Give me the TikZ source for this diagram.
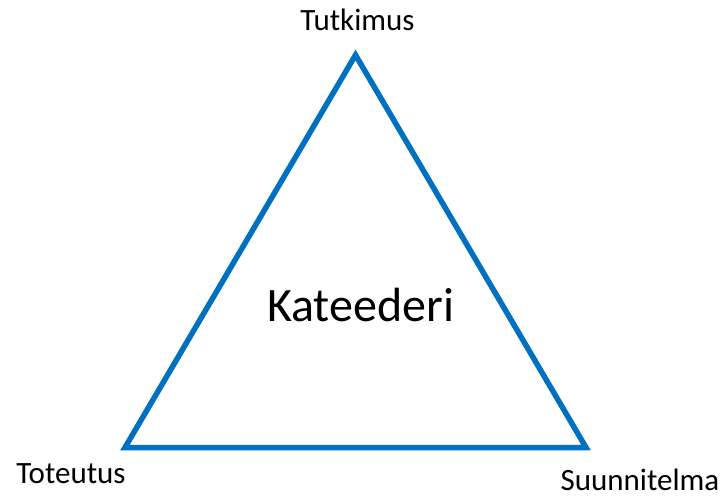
\documentclass[tikz,border=0pt]{standalone}
\usepackage{fontspec}
\setmainfont{Carlito}
\usetikzlibrary{positioning}
\definecolor{edgeblue}{HTML}{0070C0}

\begin{document}
\begin{tikzpicture}[x=1pt, y=-1pt,
    corner/.style={anchor=base, inner sep=0pt, font=\fontsize{31}{36}\selectfont},
    centre/.style={anchor=base, inner sep=0pt, font=\fontsize{48}{56}\selectfont}]
  \useasboundingbox (0,0) rectangle (727,498);

  % corners of the triangle
  \coordinate (top) at (355.5, 55);
  \coordinate (left) at (125, 447.5);
  \coordinate (right) at (586, 447.5);
  \draw[edgeblue, line width=5.5pt] (top) -- (right) -- (left) -- cycle;

  % labels
  \node[corner] (tutkimus) at (357.5, 30) {Tutkimus};
  \node[corner] (toteutus) at (71, 483) {Toteutus};
  \node[corner] (suunnitelma) at (640, 490) {Suunnitelma};
  \node[centre] (kateederi) at (360.5, 321.5) {Kateederi};
\end{tikzpicture}
\end{document}
